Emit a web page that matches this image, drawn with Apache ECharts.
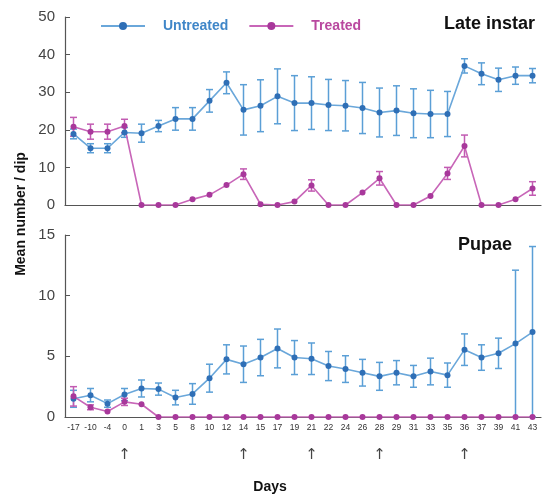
<!DOCTYPE html>
<html>
<head>
<meta charset="utf-8">
<script src="https://cdn.jsdelivr.net/npm/echarts@6/dist/echarts.min.js"></script>
<style>html,body{margin:0;padding:0;background:#fff;}#c{width:547px;height:494px;}</style>
</head>
<body>
<div id="c"></div>
<script>
var days = ['-17','-10','-4','0','1','3','5','8','10','12','14','15','17','19','21','22','24','26','28','29','31','33','35','36','37','39','41','43'];
var arrowDays = ['0','14','21','28','36'];
var lateTicks = [0,10,20,30,40,50];
var pupaeTicks = [0,5,10,15];

var lateUntreated    = [18.9,15.1,15.1,19.3,19.1,21.0,22.9,22.9,27.7,32.5,25.3,26.4,28.9,27.1,27.1,26.6,26.4,25.8,24.6,25.1,24.4,24.2,24.2,37.0,34.9,33.3,34.4,34.4];
var lateUntreatedErr = [1.3,1.2,1.2,1.3,2.4,1.5,3.0,3.0,3.0,2.9,6.7,6.9,7.3,7.3,7.0,6.8,6.7,6.8,6.5,6.6,6.5,6.3,6.0,1.9,2.9,3.1,2.3,1.9];
var lateTreated      = [20.8,19.5,19.5,21.0,0,0,0,1.5,2.7,5.3,8.2,0.2,0,0.9,5.2,0,0,3.3,7.1,0,0,2.4,8.4,15.7,0,0,1.5,4.4];
var lateTreatedErr   = [2.5,2.0,2.0,1.8,0,0,0,0,0,0,1.4,0,0,0,1.5,0,0,0,1.8,0,0,0,1.6,2.9,0,0,0,1.8];

var pupaeUntreated    = [1.5,1.8,1.1,1.85,2.35,2.3,1.6,1.9,3.2,4.75,4.35,4.9,5.65,4.9,4.8,4.2,3.95,3.65,3.35,3.65,3.35,3.75,3.45,5.55,4.9,5.25,6.05,7.0];
var pupaeUntreatedErr = [0.7,0.55,0.3,0.5,0.7,0.5,0.6,0.85,1.15,1.2,1.5,1.5,1.6,1.4,1.3,1.2,1.1,1.1,1.15,1.0,0.9,1.1,1.0,1.3,1.05,1.25,6.05,7.05];
var pupaeTreated      = [1.7,0.8,0.45,1.25,1.05,0,0,0,0,0,0,0,0,0,0,0,0,0,0,0,0,0,0,0,0,0,0,0];
var pupaeTreatedErr   = [0.8,0.2,0,0.3,0,0,0,0,0,0,0,0,0,0,0,0,0,0,0,0,0,0,0,0,0,0,0,0];

var BLUE_M = '#2f6fb6', BLUE_L = '#6aa7da', BLUE_E = '#5b9fd6', BLUE_T = '#3f86c8';
var MAG_M = '#a8389b', MAG_L = '#c866b8', MAG_E = '#c25bb2', MAG_T = '#b9489f';

function errData(vals, errs){
  var out = [];
  for (var i = 0; i < vals.length; i++) {
    if (errs[i] > 0) out.push([i, Math.max(0, vals[i] - errs[i]), vals[i] + errs[i]]);
  }
  return out;
}
function errSeries(name, vals, errs, color, xi, yi){
  return {
    name: name, type: 'custom', xAxisIndex: xi, yAxisIndex: yi, z: 1,
    data: errData(vals, errs), silent: true,
    renderItem: function(params, api){
      var x = api.value(0);
      var lo = api.coord([x, api.value(1)]);
      var hi = api.coord([x, api.value(2)]);
      var w = 3.5;
      var st = {stroke: color, lineWidth: 1.5};
      return {type:'group', children:[
        {type:'line', shape:{x1:lo[0],y1:lo[1],x2:hi[0],y2:hi[1]}, style:st},
        {type:'line', shape:{x1:hi[0]-w,y1:hi[1],x2:hi[0]+w,y2:hi[1]}, style:st},
        {type:'line', shape:{x1:lo[0]-w,y1:lo[1],x2:lo[0]+w,y2:lo[1]}, style:st}
      ]};
    }
  };
}
function lineSeries(name, vals, mcol, lcol, xi, yi){
  return {
    name: name, type:'line', xAxisIndex: xi, yAxisIndex: yi, data: vals, z: 3,
    symbol:'circle', symbolSize: 6,
    itemStyle:{color: mcol}, lineStyle:{color: lcol, width: 1.6},
    emphasis:{disabled:true}
  };
}

var yAxisBase = {
  type:'value', axisLine:{show:true, lineStyle:{color:'#555', width:1.2}},
  axisTick:{show:true, inside:true, length:5, lineStyle:{color:'#555'}},
  splitLine:{show:false},
  axisLabel:{color:'#444', fontSize:15, fontFamily:'Liberation Sans, Arial, sans-serif', margin:10}
};

var chart = echarts.init(document.getElementById('c'));
chart.setOption({
  animation:false,
  backgroundColor:'#fff',
  grid:[
    {left:65, right:6, top:17, height:188},
    {left:65, right:6, top:235, height:182}
  ],
  legend:{
    top:14, left:95, itemWidth:44, itemHeight:10, itemGap:20,
    data:[{name:'Untreated', textStyle:{color:BLUE_T}}, {name:'Treated', textStyle:{color:MAG_T}}],
    textStyle:{fontSize:14, fontWeight:'bold', fontFamily:'Liberation Sans, Arial, sans-serif', padding:[0,0,0,13]}
  },
  title:[
    {text:'Late instar', left:439, top:10, textStyle:{fontSize:18, fontWeight:'bold', color:'#111', fontFamily:'Liberation Sans, Arial, sans-serif'}},
    {text:'Pupae', left:453, top:231, textStyle:{fontSize:18, fontWeight:'bold', color:'#111', fontFamily:'Liberation Sans, Arial, sans-serif'}}
  ],
  xAxis:[
    {type:'category', gridIndex:0, data:days, boundaryGap:true,
     axisLine:{lineStyle:{color:'#555', width:1.2}}, axisTick:{show:false}, axisLabel:{show:false}},
    {type:'category', gridIndex:1, data:days, boundaryGap:true,
     axisLine:{lineStyle:{color:'#555', width:1.2}}, axisTick:{show:false},
     axisLabel:{interval:0, fontSize:8.5, color:'#333', margin:6, fontFamily:'Liberation Sans, Arial, sans-serif'}},
    {type:'category', gridIndex:1, data:days, boundaryGap:true, position:'bottom', offset:23,
     axisLine:{show:false}, axisTick:{show:false},
     axisLabel:{interval:0, fontSize:15, color:'#444', fontFamily:'DejaVu Sans, sans-serif',
       formatter:function(v){ return arrowDays.indexOf(v) >= 0 ? '↑' : ''; }}}
  ],
  yAxis:[
    Object.assign({}, yAxisBase, {gridIndex:0, min:lateTicks[0], max:lateTicks[lateTicks.length-1], interval:lateTicks[1]-lateTicks[0]}),
    Object.assign({}, yAxisBase, {gridIndex:1, min:pupaeTicks[0], max:pupaeTicks[pupaeTicks.length-1], interval:pupaeTicks[1]-pupaeTicks[0]})
  ],
  graphic:[
    {type:'text', x:21, y:214, rotation:Math.PI/2, style:{text:'Mean number / dip', fill:'#111', font:'bold 14px Liberation Sans, Arial, sans-serif', textAlign:'center', textVerticalAlign:'middle'}},
    {type:'text', x:270, y:487, style:{text:'Days', fill:'#111', font:'bold 14px Liberation Sans, Arial, sans-serif', textAlign:'center', textVerticalAlign:'middle'}}
  ],
  series:[
    errSeries('Untreated SE', lateUntreated, lateUntreatedErr, BLUE_E, 0, 0),
    errSeries('Treated SE', lateTreated, lateTreatedErr, MAG_E, 0, 0),
    lineSeries('Untreated', lateUntreated, BLUE_M, BLUE_L, 0, 0),
    lineSeries('Treated', lateTreated, MAG_M, MAG_L, 0, 0),
    errSeries('Untreated SE', pupaeUntreated, pupaeUntreatedErr, BLUE_E, 1, 1),
    errSeries('Treated SE', pupaeTreated, pupaeTreatedErr, MAG_E, 1, 1),
    lineSeries('Untreated', pupaeUntreated, BLUE_M, BLUE_L, 1, 1),
    lineSeries('Treated', pupaeTreated, MAG_M, MAG_L, 1, 1)
  ]
});
</script>
</body>
</html>
